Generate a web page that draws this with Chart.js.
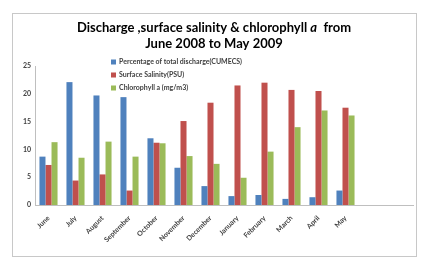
<!DOCTYPE html>
<html>
<head>
<meta charset="utf-8">
<script src="https://cdn.jsdelivr.net/npm/chart.js@4"></script>
<style>
  html, body { margin: 0; padding: 0; background: #fff; }
  #wrap { width: 421px; height: 269px; }
</style>
</head>
<body>
<div id="wrap"><canvas id="myChart" width="421" height="269"></canvas></div>
<script>
// months on the x axis (two empty slots at the end, like the original sheet)
const months = ['June', 'July', 'August', 'September', 'October', 'November',
  'December', 'January', 'February', 'March', 'April', 'May', '', ''];

const discharge = [8.7, 22.1, 19.7, 19.4, 12.0, 6.7, 3.4, 1.6, 1.8, 1.1, 1.4, 2.6];
const salinity = [7.2, 4.4, 5.5, 2.6, 11.2, 15.1, 18.4, 21.5, 22.0, 20.7, 20.5, 17.5];
const chlorophyll = [11.3, 8.5, 11.4, 8.7, 11.1, 8.8, 7.4, 4.9, 9.6, 14.0, 17.0, 16.1];

const yTicks = [0, 5, 10, 15, 20, 25];

const FONT = 'Lato, "Open Sans", sans-serif';

// frame, title (with italic a) and legend inside the plot
const frameAndLegend = {
  id: 'frameAndLegend',
  beforeDraw(chart) {
    const c = chart.ctx;
    c.save();
    c.fillStyle = '#fff';
    c.fillRect(0, 0, chart.width, chart.height);
    c.strokeStyle = '#c8c8c8';
    c.lineWidth = 1;
    c.strokeRect(12.5, 13.5, 404, 243);
    c.restore();
  },
  afterDraw(chart) {
    const c = chart.ctx;
    c.save();
    // title
    c.fillStyle = '#000';
    c.textBaseline = 'middle';
    const parts = [
      ['bold 13px ' + FONT, 'Discharge ,surface salinity & chlorophyll '],
      ['italic bold 13px ' + FONT, 'a'],
      ['bold 13px ' + FONT, '  from']
    ];
    let total = 0;
    parts.forEach(function(p) { c.font = p[0]; total += c.measureText(p[1]).width; });
    let x = 214 - total / 2;
    parts.forEach(function(p) {
      c.font = p[0];
      c.textAlign = 'left';
      c.fillText(p[1], x, 28);
      x += c.measureText(p[1]).width;
    });
    c.font = 'bold 13px ' + FONT;
    c.textAlign = 'center';
    c.fillText('June 2008 to May 2009', 214, 44);

    // legend
    c.textAlign = 'left';
    c.font = 'bold 7px ' + FONT;
    chart.data.datasets.forEach(function(ds, i) {
      const y = 62 + i * 13;
      c.fillStyle = ds.backgroundColor;
      c.fillRect(111, y - 2.5, 5, 5);
      c.fillStyle = '#404040';
      c.fillText(ds.label, 119, y);
    });
    c.restore();
  }
};

new Chart(document.getElementById('myChart'), {
  type: 'bar',
  data: {
    labels: months,
    datasets: [{
      label: 'Percentage of total discharge(CUMECS)',
      data: discharge,
      backgroundColor: '#4F81BD'
    }, {
      label: 'Surface Salinity(PSU)',
      data: salinity,
      backgroundColor: '#C0504D'
    }, {
      label: 'Chlorophyll a (mg/m3)',
      data: chlorophyll,
      backgroundColor: '#9BBB59'
    }]
  },
  options: {
    responsive: false,
    animation: false,
    layout: { padding: { top: 66, right: 8, bottom: 0, left: 0 } },
    datasets: {
      bar: { categoryPercentage: 0.67, barPercentage: 1.0 }
    },
    plugins: {
      legend: { display: false },
      tooltip: { enabled: false },
      title: { display: false }
    },
    scales: {
      x: {
        grid: { display: false },
        border: { color: '#bfbfbf' },
        ticks: {
          minRotation: 45,
          maxRotation: 45,
          autoSkip: false,
          color: '#404040',
          font: { family: FONT, size: 7, weight: 'bold' },
          padding: 1
        },
        afterFit(scale) { scale.height = 64; }
      },
      y: {
        min: 0,
        max: 25,
        afterBuildTicks(scale) { scale.ticks = yTicks.map(v => ({ value: v })); },
        grid: { display: false, drawTicks: false },
        border: { display: true, color: '#bfbfbf' },
        ticks: {
          color: '#404040',
          font: { family: FONT, size: 7, weight: 'bold' },
          padding: 4
        },
        afterFit(scale) { scale.width = 35; }
      }
    }
  },
  plugins: [frameAndLegend]
});
</script>
</body>
</html>
